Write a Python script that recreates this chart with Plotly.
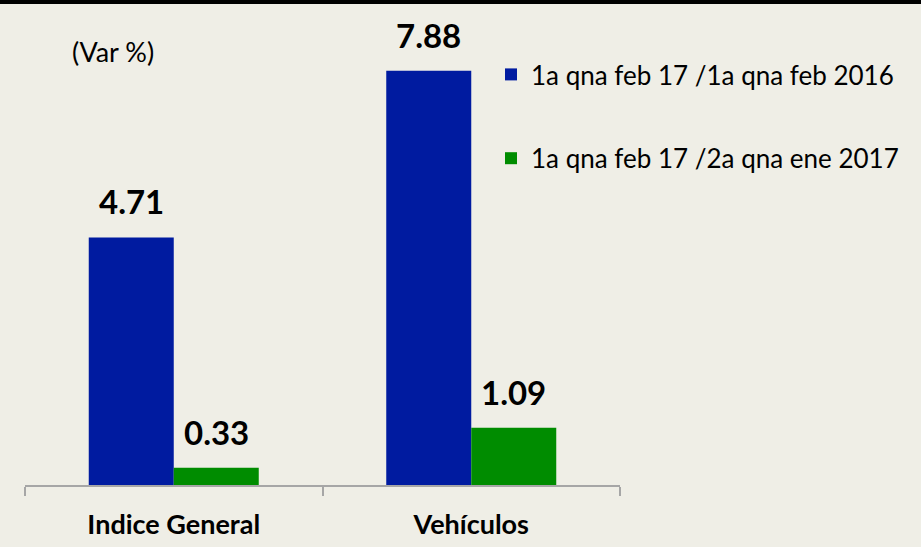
import plotly.graph_objects as go

categories = ["Indice General", "Vehículos"]
series_names = ["1a qna feb 17 /1a qna feb 2016", "1a qna feb 17 /2a qna ene 2017"]
vals_anual = [4.71, 7.88]
vals_quincenal = [0.33, 1.09]
series_colors = ["#001BA0", "#008C00"]

BG = "#EFEEE6"
FONT = "Lato"

fig = go.Figure()
for name, vals, color in zip(series_names, [vals_anual, vals_quincenal], series_colors):
    fig.add_trace(go.Bar(
        x=categories, y=vals, name=name, legendgroup=name,
        marker=dict(color=color, line=dict(width=0)),
    ))

# value labels above each bar
for k, vals in enumerate([vals_anual, vals_quincenal]):
    shift = -42.5 if k == 0 else 42.5
    for cat, v in zip(categories, vals):
        fig.add_annotation(
            x=cat, y=v, text=f"{v:.2f}", showarrow=False,
            xshift=shift, yshift=14, yanchor="bottom",
            font=dict(family=FONT, size=33, color="black", weight="bold"),
        )

fig.add_annotation(
    xref="paper", yref="paper", x=(70 - 25) / 595, y=1 - (51 - 12) / 473,
    xanchor="left", yanchor="middle", text="(Var %)", showarrow=False,
    font=dict(family=FONT, size=27, color="black"),
)

# black rule at the top of the image
fig.add_shape(
    type="rect", xref="paper", yref="paper",
    x0=-0.1, x1=1.6, y0=1 + (12 - 4) / 473, y1=1 + 14 / 473,
    fillcolor="black", line=dict(width=0), layer="above",
)

fig.update_layout(
    width=921, height=547,
    margin=dict(l=25, r=301, t=12, b=62, autoexpand=False),
    paper_bgcolor=BG, plot_bgcolor=BG,
    barmode="group", bargap=0.4286, bargroupgap=0,
    font=dict(family=FONT, color="black"),
    legend=dict(
        x=(491 - 25) / 595, y=1 - (51 - 12) / 473, xanchor="left", yanchor="top",
        bgcolor="rgba(0,0,0,0)", font=dict(family=FONT, size=26, color="black"),
        tracegroupgap=47,
    ),
    showlegend=True,
)
fig.update_xaxes(
    automargin=False,
    showline=True, linecolor="#A6A6A6", linewidth=1.5,
    ticks="outside", tickson="boundaries", ticklen=9, tickcolor="#A6A6A6", tickwidth=1.5,
    tickfont=dict(family=FONT, size=27, color="black", weight="bold"),
    ticklabelstandoff=15,
    showgrid=False,
)
fig.update_yaxes(range=[0, 9], visible=False, showgrid=False)

fig.write_html(
    "out.html",
    config={"displayModeBar": False},
    post_script="document.body.style.margin='0';",
)
